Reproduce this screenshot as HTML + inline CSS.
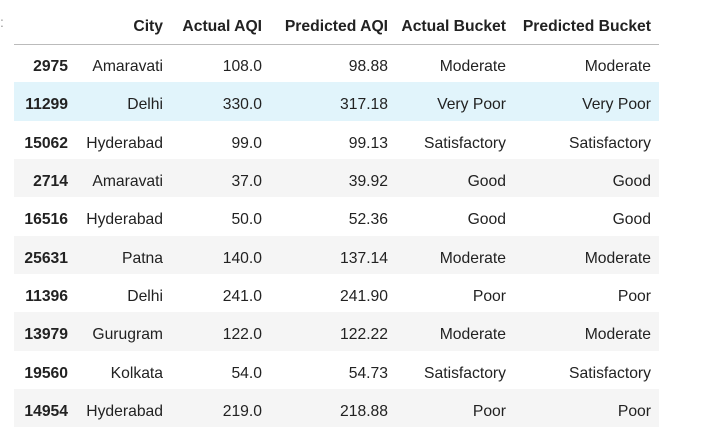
<!DOCTYPE html>
<html><head><meta charset="utf-8"><style>
body{margin:0;background:#fff;width:702px;height:440px;overflow:hidden;font-family:"Segoe UI","Liberation Sans",sans-serif;color:#222;font-size:15.7px}
.colon{position:absolute;left:0;top:14px;color:#999;font-size:14px}
table{position:absolute;left:14px;top:9px;border-collapse:collapse;width:645px;table-layout:fixed}
th,td{text-align:right;padding:0 8px 0 0;white-space:nowrap}
thead th{height:35px;border-bottom:1.5px solid #bbb;font-weight:bold;vertical-align:middle;padding-top:2px;box-sizing:border-box}
tbody tr{height:38.33px}
tbody th,tbody td{padding-top:8px;box-sizing:border-box}
tbody tr:nth-child(even){background:#f5f5f5}
tbody tr.hl{background:#e1f4fb}
tbody th{font-weight:bold}
</style></head><body>
<div class="colon">:</div>
<table>
<colgroup><col style="width:62px"><col style="width:95px"><col style="width:99px"><col style="width:126px"><col style="width:118px"><col style="width:145px"></colgroup>
<thead><tr><th></th><th>City</th><th>Actual AQI</th><th>Predicted AQI</th><th>Actual Bucket</th><th>Predicted Bucket</th></tr></thead>
<tbody>
<tr><th>2975</th><td>Amaravati</td><td>108.0</td><td>98.88</td><td>Moderate</td><td>Moderate</td></tr>
<tr class="hl"><th>11299</th><td>Delhi</td><td>330.0</td><td>317.18</td><td>Very Poor</td><td>Very Poor</td></tr>
<tr><th>15062</th><td>Hyderabad</td><td>99.0</td><td>99.13</td><td>Satisfactory</td><td>Satisfactory</td></tr>
<tr><th>2714</th><td>Amaravati</td><td>37.0</td><td>39.92</td><td>Good</td><td>Good</td></tr>
<tr><th>16516</th><td>Hyderabad</td><td>50.0</td><td>52.36</td><td>Good</td><td>Good</td></tr>
<tr><th>25631</th><td>Patna</td><td>140.0</td><td>137.14</td><td>Moderate</td><td>Moderate</td></tr>
<tr><th>11396</th><td>Delhi</td><td>241.0</td><td>241.90</td><td>Poor</td><td>Poor</td></tr>
<tr><th>13979</th><td>Gurugram</td><td>122.0</td><td>122.22</td><td>Moderate</td><td>Moderate</td></tr>
<tr><th>19560</th><td>Kolkata</td><td>54.0</td><td>54.73</td><td>Satisfactory</td><td>Satisfactory</td></tr>
<tr><th>14954</th><td>Hyderabad</td><td>219.0</td><td>218.88</td><td>Poor</td><td>Poor</td></tr>
</tbody></table>
</body></html>
